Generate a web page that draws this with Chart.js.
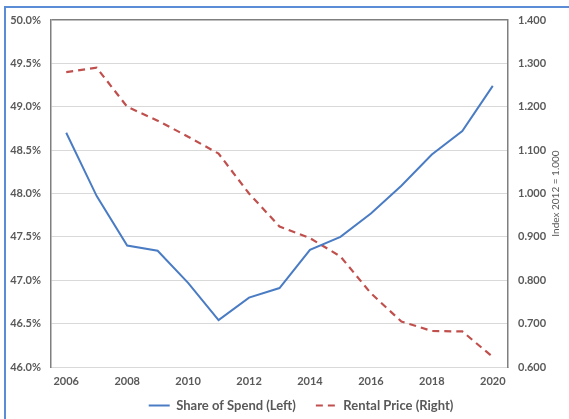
<!DOCTYPE html>
<html>
<head>
<meta charset="utf-8">
<script src="https://cdn.jsdelivr.net/npm/chart.js@4/dist/chart.umd.min.js"></script>
<style>
  html, body { margin: 0; padding: 0; background: #fff; }
  #wrap { position: relative; width: 569px; height: 419px; }
  #frame { position: absolute; left: 4px; top: 6px; right: -10px; bottom: -10px;
           border-left: 2px solid #5b8dd6; border-top: 2px solid #5b8dd6; pointer-events: none; }
</style>
</head>
<body>
<div id="wrap">
  <canvas id="rentChart" width="569" height="419"></canvas>
  <div id="frame"></div>
</div>
<script>
// years on the x axis
const years = ['2006', '2007', '2008', '2009', '2010', '2011', '2012', '2013',
               '2014', '2015', '2016', '2017', '2018', '2019', '2020'];

// share of spend, percent (left axis)
const shareOfSpend = [48.70, 47.97, 47.40, 47.34, 46.97, 46.54, 46.80, 46.91,
                      47.35, 47.50, 47.77, 48.09, 48.45, 48.72, 49.24];

// rental price index, 2012 = 1.000 (right axis)
const rentalPrice = [1.280, 1.290, 1.200, 1.168, 1.131, 1.092, 1.000, 0.924,
                     0.897, 0.855, 0.770, 0.705, 0.683, 0.682, 0.623];

const leftTicks = { min: 46, max: 50, step: 0.5 };
const rightTicks = { min: 0.6, max: 1.4, step: 0.1 };
const rightTitle = 'Index 2012 = 1.000';

const gray = '#595959';
const tickFont = { family: 'Lato', size: 11, weight: 'bold' };

// right axis title reads bottom-to-top, like Excel
const rightTitlePlugin = {
    id: 'rightTitle',
    afterDraw(chart) {
        const { ctx, chartArea } = chart;
        ctx.save();
        ctx.translate(556, (chartArea.top + chartArea.bottom) / 2);
        ctx.rotate(-Math.PI / 2);
        ctx.font = '10px Lato';
        ctx.fillStyle = gray;
        ctx.textAlign = 'center';
        ctx.textBaseline = 'middle';
        ctx.fillText(rightTitle, 0, 0);
        ctx.restore();
    }
};

// keep legend compact vertically and nudge it into place
const legendFitPlugin = {
    id: 'legendFit',
    beforeInit(chart) {
        const origFit = chart.legend.fit;
        chart.legend.fit = function () {
            origFit.call(this);
            this.height = 30;
        };
    },
    afterLayout(chart) {
        const lg = chart.legend;
        lg.left += 20;
        lg.right += 20;
        lg.top -= 10;
    }
};

function initChart() {
    const ctx = document.getElementById('rentChart');

    new Chart(ctx.getContext('2d'), {
        type: 'line',
        data: {
            labels: years,
            datasets: [
                {
                    label: 'Share of Spend (Left)',
                    data: shareOfSpend,
                    yAxisID: 'yLeft',
                    borderColor: '#4a7cc4',
                    backgroundColor: '#4a7cc4',
                    borderWidth: 2,
                    pointRadius: 0,
                    tension: 0
                },
                {
                    label: 'Rental Price (Right)',
                    data: rentalPrice,
                    yAxisID: 'yRight',
                    borderColor: '#c0504d',
                    backgroundColor: '#c0504d',
                    borderWidth: 2.2,
                    borderDash: [7, 5],
                    pointRadius: 0,
                    tension: 0
                }
            ]
        },
        options: {
            responsive: false,
            animation: false,
            layout: { padding: { top: 20, left: 0, right: 7, bottom: 0 } },
            plugins: {
                tooltip: { enabled: false },
                legend: {
                    position: 'bottom',
                    labels: {
                        font: { family: 'Lato', size: 13, weight: 'bold' },
                        color: gray,
                        usePointStyle: true,
                        pointStyle: 'line',
                        pointStyleWidth: 21,
                        padding: 20,
                        generateLabels(chart) {
                            return chart.data.datasets.map((ds, i) => ({
                                text: ds.label,
                                datasetIndex: i,
                                strokeStyle: ds.borderColor,
                                fillStyle: ds.borderColor,
                                fontColor: gray,
                                lineWidth: 2,
                                lineDash: ds.borderDash || [],
                                pointStyle: 'line',
                                hidden: false
                            }));
                        }
                    }
                }
            },
            scales: {
                x: {
                    offset: true,
                    grid: { display: false, drawTicks: false },
                    border: { color: '#d9d9d9' },
                    ticks: {
                        autoSkip: false,
                        maxRotation: 0,
                        padding: 8,
                        color: gray,
                        font: tickFont,
                        callback: (v, i) => (i % 2 === 0 ? years[i] : '')
                    },
                    afterFit: s => { s.height = 22; }
                },
                yLeft: {
                    position: 'left',
                    min: leftTicks.min,
                    max: leftTicks.max,
                    grid: {
                        drawTicks: false,
                        color: c => (c.tick && c.tick.value === leftTicks.max ? '#7f7f7f' : '#d9d9d9'),
                        lineWidth: c => (c.tick && c.tick.value === leftTicks.max ? 1.5 : 1)
                    },
                    border: { color: '#7f7f7f', width: 1.5 },
                    ticks: {
                        stepSize: leftTicks.step,
                        padding: 10,
                        color: gray,
                        font: tickFont,
                        callback: v => v.toFixed(1) + '%'
                    },
                    afterFit: s => { s.width = 51; }
                },
                yRight: {
                    position: 'right',
                    min: rightTicks.min,
                    max: rightTicks.max,
                    grid: { display: false, drawTicks: false },
                    border: { color: '#7f7f7f', width: 1.5 },
                    ticks: {
                        stepSize: rightTicks.step,
                        padding: 10,
                        color: gray,
                        font: tickFont,
                        callback: v => v.toFixed(3)
                    },
                    afterFit: s => { s.width = 54; }
                }
            }
        },
        plugins: [rightTitlePlugin, legendFitPlugin]
    });
}

document.addEventListener('DOMContentLoaded', initChart);
</script>
</body>
</html>
